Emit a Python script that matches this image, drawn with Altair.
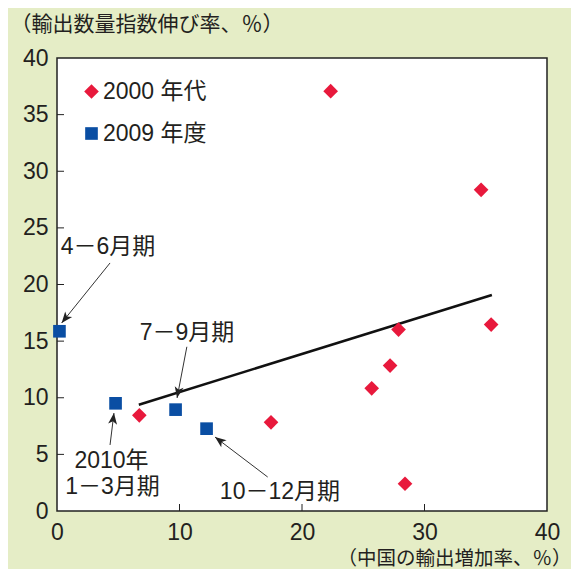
import math
import altair as alt
import pandas as pd

# ---- data ----
series_names = ["2000 年代", "2009 年度"]
s2000_x = [6.72, 22.34, 34.62, 35.44, 27.88, 27.19, 25.69, 17.47, 28.41]
s2000_y = [8.45, 37.07, 28.36, 16.46, 16.02, 12.84, 10.83, 7.83, 2.41]
s2009_x = [0.20, 4.78, 9.68, 12.21]
s2009_y = [15.87, 9.51, 8.95, 7.27]

fit_x = [6.68, 35.50]
fit_y = [9.39, 19.08]

x_ticks = [0, 10, 20, 30, 40]
y_ticks = [0, 5, 10, 15, 20, 25, 30, 35, 40]
x_inner_ticks = [10, 20, 30]
y_inner_ticks = [5, 10, 15, 20, 25, 30, 35]

ann_text = ["4－6月期", "7－9月期", "2010年", "1－3月期", "10－12月期"]
ann_x = [4.16, 10.61, 4.45, 4.53, 18.2]
ann_y = [23.31, 15.72, 4.42, 2.08, 1.68]

arrow_x1 = [4.33, 10.6, 4.33, 17.2]
arrow_y1 = [21.9, 14.5, 5.83, 3.0]
arrow_x2 = [0.38, 9.8, 4.65, 12.9]
arrow_y2 = [16.6, 9.98, 8.65, 6.53]

x_title = "（中国の輸出増加率、％）"
y_title = "（輸出数量指数伸び率、％）"

# ---- layout ----
W, H = 490, 453
PAD = {"left": 49, "top": 50, "right": 24, "bottom": 58}
FONT_NUM = "Liberation Sans, Noto Sans CJK JP"
FONT_JP = "Noto Sans CJK JP"
TXT = "#231f20"

pts = pd.DataFrame({
    "x": s2000_x + s2009_x,
    "y": s2000_y + s2009_y,
    "series": [series_names[0]] * len(s2000_x) + [series_names[1]] * len(s2009_x),
})
fit = pd.DataFrame({"x": fit_x, "y": fit_y})
ann = pd.DataFrame({"x": ann_x, "y": ann_y, "t": ann_text})

sx, sy = W / 40.0, H / 40.0
angles = []
for a, b, c, d in zip(arrow_x1, arrow_y1, arrow_x2, arrow_y2):
    dx = (c - a) * sx
    dy = -(d - b) * sy
    angles.append(math.degrees(math.atan2(dx, -dy)) % 360)
arr = pd.DataFrame({"x": arrow_x1, "y": arrow_y1, "x2": arrow_x2, "y2": arrow_y2, "ang": angles})

xs = alt.Scale(domain=[0, 40], nice=False, zero=False)
ys = alt.Scale(domain=[0, 40], nice=False, zero=False)

xaxis = alt.Axis(values=x_ticks, ticks=False, domain=False, grid=False, labelFlush=False,
                 labelFont=FONT_NUM, labelFontSize=23, labelColor=TXT, labelPadding=10,
                 title=x_title, titleFont=FONT_JP, titleFontSize=19.5, titleFontWeight="normal",
                 titleColor=TXT, titleAngle=0, titleAlign="right", titleBaseline="middle",
                 titleX=514, titleY=47)
yaxis = alt.Axis(values=y_ticks, ticks=False, domain=False, grid=False, labelFlush=False,
                 labelFont=FONT_NUM, labelFontSize=23, labelColor=TXT, labelPadding=9,
                 title=y_title, titleFont=FONT_JP, titleFontSize=21, titleFontWeight="normal",
                 titleColor=TXT, titleAngle=0, titleAlign="left", titleBaseline="middle",
                 titleX=-47, titleY=-34)


def X(f):
    return alt.X(f, scale=xs, axis=xaxis)


def Y(f):
    return alt.Y(f, scale=ys, axis=yaxis)


legend = alt.Legend(orient="none", legendX=23, legendY=22, title=None,
                    labelFont=FONT_NUM, labelFontSize=23, labelColor=TXT,
                    symbolSize=150, symbolStrokeWidth=0, rowPadding=18, labelOffset=0)

points = alt.Chart(pts).mark_point(filled=True, opacity=1).encode(
    x=X("x:Q"), y=Y("y:Q"),
    color=alt.Color("series:N", scale=alt.Scale(domain=series_names, range=["#e8193c", "#0a4ea3"]), legend=legend),
    shape=alt.Shape("series:N", scale=alt.Scale(domain=series_names, range=["diamond", "square"]), legend=legend),
    size=alt.Size("series:N", scale=alt.Scale(domain=series_names, range=[215, 160]), legend=None),
)

line = alt.Chart(fit).mark_line(color="#111", strokeWidth=2.6).encode(x=X("x:Q"), y=Y("y:Q"))

arrows = alt.Chart(arr).mark_rule(color="#333", strokeWidth=1).encode(
    x=X("x:Q"), y=Y("y:Q"), x2="x2:Q", y2="y2:Q")

heads = alt.Chart(arr).mark_point(
    shape="M0,0 L0.4,1 L0,0.75 L-0.4,1 Z", filled=True, opacity=1, color="#222", size=500
).encode(x=X("x2:Q"), y=Y("y2:Q"), angle=alt.Angle("ang:Q", scale=None))

labels = alt.Chart(ann).mark_text(font=FONT_NUM, fontSize=23, color=TXT, align="center", baseline="middle").encode(
    x=X("x:Q"), y=Y("y:Q"), text="t:N")

xt = alt.Chart(pd.DataFrame({"t": x_inner_ticks})).mark_rule(color="#222", strokeWidth=1).encode(
    x=X("t:Q"), y=alt.value(H), y2=alt.value(H - 7))
yt = alt.Chart(pd.DataFrame({"t": y_inner_ticks})).mark_rule(color="#222", strokeWidth=1).encode(
    y=Y("t:Q"), x=alt.value(0), x2=alt.value(7))

chart = alt.layer(xt, yt, line, arrows, heads, labels, points).properties(
    width=W, height=H,
    autosize=alt.AutoSizeParams(type="none"),
    padding=PAD,
).configure(background="#e5edc6").configure_view(
    fill="white", stroke="#222", strokeWidth=1.5
)

chart.save("out.html", embed_options={"renderer": "svg", "actions": False})
